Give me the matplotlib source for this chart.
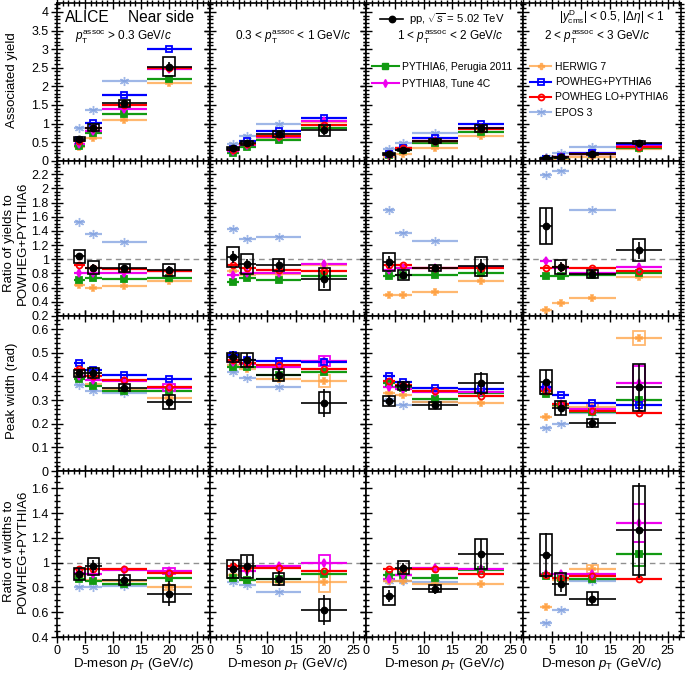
import numpy as np
import matplotlib
matplotlib.use('Agg')
import matplotlib.pyplot as plt
from matplotlib.patches import Rectangle
from matplotlib.lines import Line2D
from matplotlib.ticker import MultipleLocator, FuncFormatter

plt.rcParams['font.family'] = ['Liberation Sans', 'DejaVu Sans']
plt.rcParams['mathtext.fontset'] = 'custom'
plt.rcParams['mathtext.rm'] = 'Liberation Sans'
plt.rcParams['mathtext.it'] = 'Liberation Sans:italic'
plt.rcParams['mathtext.bf'] = 'Liberation Sans:bold'

# ---------------- data ----------------
PT_CENTERS = [4, 6.5, 12, 20]
PT_HALF = [1, 1.5, 4, 4]
ASSOC_LABELS = [r"$p_{\rm T}^{\rm assoc}$ > 0.3 GeV/$c$",
                r"0.3 < $p_{\rm T}^{\rm assoc}$ < 1 GeV/$c$",
                r"1 < $p_{\rm T}^{\rm assoc}$ < 2 GeV/$c$",
                r"2 < $p_{\rm T}^{\rm assoc}$ < 3 GeV/$c$"]

# Row 1: associated yield (per column = pT assoc range, per bin = D pT)
DATA_YIELD = [[0.58, 0.89, 1.54, 2.53], [0.33, 0.48, 0.71, 0.82],
              [0.18, 0.29, 0.53, 0.87], [0.065, 0.09, 0.17, 0.48]]
DATA_YIELD_STAT = [[0.03, 0.05, 0.07, 0.12], [0.03, 0.04, 0.06, 0.12],
                   [0.02, 0.03, 0.05, 0.08], [0.02, 0.02, 0.03, 0.04]]
DATA_YIELD_SYST = [[0.06, 0.09, 0.10, 0.25], [0.04, 0.05, 0.08, 0.15],
                   [0.02, 0.03, 0.05, 0.09], [0.02, 0.02, 0.03, 0.04]]
PW_YIELD = [[0.55, 1.02, 1.77, 2.99], [0.32, 0.52, 0.79, 1.14],
            [0.19, 0.35, 0.60, 0.98], [0.045, 0.10, 0.21, 0.44]]
PWLO_YIELD = [[0.52, 0.88, 1.51, 2.50], [0.29, 0.46, 0.67, 0.96],
              [0.17, 0.33, 0.53, 0.85], [0.04, 0.089, 0.187, 0.37]]
P8_YIELD = [[0.45, 0.81, 1.40, 2.47], [0.25, 0.42, 0.63, 1.07],
            [0.16, 0.31, 0.52, 0.87], [0.044, 0.088, 0.17, 0.39]]
P6_YIELD = [[0.40, 0.74, 1.26, 2.19], [0.22, 0.38, 0.56, 0.88],
            [0.15, 0.28, 0.47, 0.78], [0.034, 0.076, 0.168, 0.35]]
HW_YIELD = [[0.36, 0.60, 1.09, 2.10], [0.27, 0.41, 0.62, 1.05],
            [0.095, 0.17, 0.33, 0.67], [0.012, 0.038, 0.099, 0.32]]
EPOS_YIELD = [[0.88, 1.36, 2.14], [0.46, 0.66, 1.00],
              [0.32, 0.48, 0.75], [0.097, 0.22, 0.36]]

# Row 2: ratio of yields to POWHEG+PYTHIA6
DATA_RYIELD = [[1.04, 0.88, 0.88, 0.85], [1.03, 0.93, 0.92, 0.72],
               [0.96, 0.78, 0.88, 0.90], [1.47, 0.89, 0.79, 1.13]]
DATA_RYIELD_STAT = [[0.05, 0.05, 0.04, 0.06], [0.08, 0.07, 0.07, 0.12],
                    [0.08, 0.06, 0.06, 0.10], [0.25, 0.07, 0.06, 0.12]]
DATA_RYIELD_SYST = [[0.09, 0.09, 0.06, 0.09], [0.14, 0.14, 0.08, 0.15],
                    [0.13, 0.07, 0.04, 0.13], [0.26, 0.10, 0.06, 0.15]]
PWLO_RYIELD = [[0.92, 0.87, 0.86, 0.84], [0.92, 0.88, 0.85, 0.84],
               [0.92, 0.92, 0.88, 0.87], [0.88, 0.89, 0.87, 0.84]]
P8_RYIELD = [[0.80, 0.80, 0.80, 0.83], [0.78, 0.80, 0.80, 0.94],
             [0.85, 0.88, 0.87, 0.89], [0.98, 0.88, 0.80, 0.89]]
P6_RYIELD = [[0.71, 0.73, 0.72, 0.73], [0.68, 0.73, 0.71, 0.77],
             [0.77, 0.78, 0.78, 0.80], [0.76, 0.76, 0.78, 0.80]]
HW_RYIELD = [[0.64, 0.59, 0.62, 0.69], [0.83, 0.78, 0.79, 0.92],
             [0.50, 0.49, 0.54, 0.69], [0.28, 0.38, 0.46, 0.75]]
EPOS_RYIELD = [[1.53, 1.35, 1.24], [1.42, 1.28, 1.32],
               [1.69, 1.37, 1.26], [2.19, 2.24, 1.69]]

# Row 3: peak width (rad)
DATA_WIDTH = [[0.413, 0.415, 0.352, 0.292], [0.480, 0.469, 0.405, 0.288],
              [0.295, 0.359, 0.278, 0.370], [0.377, 0.267, 0.203, 0.353]]
DATA_WIDTH_STAT = [[0.02, 0.02, 0.015, 0.03], [0.025, 0.03, 0.025, 0.06],
                   [0.02, 0.02, 0.015, 0.05], [0.05, 0.03, 0.02, 0.10]]
DATA_WIDTH_SYST = [[0.015, 0.02, 0.015, 0.03], [0.02, 0.03, 0.025, 0.045],
                   [0.02, 0.015, 0.015, 0.04], [0.05, 0.03, 0.015, 0.10]]
PW_WIDTH = [[0.455, 0.425, 0.405, 0.389], [0.490, 0.470, 0.466, 0.459],
            [0.403, 0.375, 0.349, 0.345], [0.353, 0.320, 0.288, 0.278]]
PWLO_WIDTH = [[0.430, 0.400, 0.384, 0.356], [0.470, 0.458, 0.447, 0.430],
              [0.380, 0.365, 0.340, 0.318], [0.340, 0.285, 0.255, 0.243]]
P8_WIDTH = [[0.400, 0.385, 0.380, 0.352], [0.460, 0.452, 0.440, 0.465],
            [0.355, 0.345, 0.335, 0.335], [0.345, 0.283, 0.262, 0.370]]
P6_WIDTH = [[0.390, 0.360, 0.340, 0.340], [0.440, 0.438, 0.405, 0.420],
            [0.370, 0.352, 0.305, 0.330], [0.325, 0.280, 0.250, 0.300]]
HW_WIDTH = [[0.400, 0.367, 0.345, 0.310], [0.450, 0.430, 0.390, 0.380],
            [0.330, 0.320, 0.290, 0.288], [0.229, 0.275, 0.272, 0.561]]
EPOS_WIDTH = [[0.363, 0.339, 0.330], [0.420, 0.394, 0.356],
              [0.300, 0.281, 0.290], [0.182, 0.200, 0.245]]
P8_WIDTH_BOX = [[0, 0, 0, 0.015], [0, 0, 0, 0.022], [0, 0, 0, 0], [0, 0, 0, 0.075]]
HW_WIDTH_BOX = [[0, 0, 0, 0], [0, 0, 0, 0.025], [0, 0, 0, 0], [0, 0, 0.015, 0.03]]

# Row 4: ratio of widths to POWHEG+PYTHIA6
DATA_RWIDTH = [[0.91, 0.97, 0.86, 0.75], [0.95, 0.97, 0.87, 0.62],
               [0.73, 0.96, 0.79, 1.07], [1.06, 0.83, 0.71, 1.26]]
DATA_RWIDTH_STAT = [[0.05, 0.05, 0.04, 0.10], [0.07, 0.08, 0.06, 0.12],
                    [0.05, 0.04, 0.04, 0.12], [0.18, 0.07, 0.05, 0.38]]
DATA_RWIDTH_SYST = [[0.05, 0.07, 0.04, 0.07], [0.07, 0.09, 0.05, 0.09],
                    [0.07, 0.05, 0.03, 0.12], [0.17, 0.09, 0.05, 0.36]]
PWLO_RWIDTH = [[0.95, 0.95, 0.95, 0.92], [0.97, 0.96, 0.96, 0.93],
               [0.95, 0.95, 0.95, 0.91], [0.90, 0.88, 0.89, 0.87]]
P8_RWIDTH = [[0.92, 0.91, 0.94, 0.93], [0.95, 0.93, 0.97, 1.00],
             [0.87, 0.90, 0.96, 0.95], [0.91, 0.91, 0.91, 1.32]]
P6_RWIDTH = [[0.87, 0.85, 0.83, 0.88], [0.88, 0.86, 0.87, 0.91],
             [0.90, 0.90, 0.88, 0.94], [0.89, 0.88, 0.87, 1.07]]
HW_RWIDTH = [[0.89, 0.86, 0.85, 0.80], [0.90, 0.86, 0.84, 0.84],
             [0.85, 0.85, 0.83, 0.83], [0.64, 0.86, 0.95, 2.02]]
EPOS_RWIDTH = [[0.80, 0.80, 0.81], [0.84, 0.82, 0.76],
               [0.85, 0.85, 0.84], [0.51, 0.62, 0.85]]
P8_RWIDTH_BOX = [[0, 0, 0, 0.025], [0, 0, 0, 0.065], [0, 0, 0, 0], [0, 0, 0, 0.15]]
P6_RWIDTH_BOX = [[0, 0, 0, 0], [0, 0, 0, 0], [0, 0, 0, 0], [0, 0, 0, 0.10]]
HW_RWIDTH_BOX = [[0, 0, 0, 0.02], [0, 0, 0, 0.08], [0, 0, 0, 0], [0, 0, 0.035, 0]]

# ---------------- styles ----------------
C_DATA = 'black'
C_P6 = '#129a12'
C_P8 = '#ee00ee'
C_HW = '#ffa040'
C_PW = '#0000ff'
C_PWLO = '#ff0000'
C_EPOS = '#7f9fe0'
ASTER = (6, 2, 0)
MS = {'s': 4.0, 'o': 4.3, 'd': 4.2, 'P': 4.0, ASTER: 6.5}

W, H = 685, 674
fig = plt.figure(figsize=(W / 100, H / 100), dpi=100)
COL_EDGES = [57, 210, 366, 523, 681]
ROW_EDGES = [3, 160.7, 316, 471, 637]

ROWS = [
    dict(ylim=(0, 4.24), major=0.5, minor=0.1,
         data=(DATA_YIELD, DATA_YIELD_STAT, DATA_YIELD_SYST),
         models=[(EPOS_YIELD, C_EPOS, ASTER, 'full', None), (HW_YIELD, C_HW, 'P', 'full', None),
                 (P6_YIELD, C_P6, 's', 'full', None), (P8_YIELD, C_P8, 'd', 'full', None),
                 (PW_YIELD, C_PW, 's', 'none', None), (PWLO_YIELD, C_PWLO, 'o', 'none', None)],
         ratio=False),
    dict(ylim=(0.2, 2.39), major=0.2, minor=0.05,
         data=(DATA_RYIELD, DATA_RYIELD_STAT, DATA_RYIELD_SYST),
         models=[(EPOS_RYIELD, C_EPOS, ASTER, 'full', None), (HW_RYIELD, C_HW, 'P', 'full', None),
                 (P6_RYIELD, C_P6, 's', 'full', None), (P8_RYIELD, C_P8, 'd', 'full', None),
                 (PWLO_RYIELD, C_PWLO, 'o', 'none', None)],
         ratio=True),
    dict(ylim=(0, 0.655), major=0.1, minor=0.02,
         data=(DATA_WIDTH, DATA_WIDTH_STAT, DATA_WIDTH_SYST),
         models=[(EPOS_WIDTH, C_EPOS, ASTER, 'full', None), (HW_WIDTH, C_HW, 'P', 'full', HW_WIDTH_BOX),
                 (P6_WIDTH, C_P6, 's', 'full', None), (P8_WIDTH, C_P8, 'd', 'full', P8_WIDTH_BOX),
                 (PW_WIDTH, C_PW, 's', 'none', None), (PWLO_WIDTH, C_PWLO, 'o', 'none', None)],
         ratio=False),
    dict(ylim=(0.4, 1.74), major=0.2, minor=0.05,
         data=(DATA_RWIDTH, DATA_RWIDTH_STAT, DATA_RWIDTH_SYST),
         models=[(EPOS_RWIDTH, C_EPOS, ASTER, 'full', None), (HW_RWIDTH, C_HW, 'P', 'full', HW_RWIDTH_BOX),
                 (P6_RWIDTH, C_P6, 's', 'full', P6_RWIDTH_BOX), (P8_RWIDTH, C_P8, 'd', 'full', P8_RWIDTH_BOX),
                 (PWLO_RWIDTH, C_PWLO, 'o', 'none', None)],
         ratio=True),
]

fmt = FuncFormatter(lambda v, p: f"{v:g}" if abs(v) > 1e-9 else "0")
axes = [[None] * 4 for _ in range(4)]

for r, row in enumerate(ROWS):
    for c in range(4):
        x0, x1 = COL_EDGES[c], COL_EDGES[c + 1]
        y0, y1 = ROW_EDGES[r], ROW_EDGES[r + 1]
        ax = fig.add_axes([x0 / W, 1 - y1 / H, (x1 - x0) / W, (y1 - y0) / H])
        axes[r][c] = ax
        ax.set_xlim(0, 27.3)
        ax.set_ylim(*row['ylim'])
        ax.xaxis.set_major_locator(MultipleLocator(5))
        ax.xaxis.set_minor_locator(MultipleLocator(1))
        ax.yaxis.set_major_locator(MultipleLocator(row['major']))
        ax.yaxis.set_minor_locator(MultipleLocator(row['minor']))
        ax.yaxis.set_major_formatter(fmt)
        ax.xaxis.set_major_formatter(fmt)
        ax.tick_params(which='both', direction='inout', top=True, right=True,
                       labelsize=9, width=1.0, pad=2)
        ax.tick_params(which='major', length=8)
        ax.tick_params(which='minor', length=4)
        ax.tick_params(labelleft=(c == 0), labelbottom=(r == 3))
        for sp in ax.spines.values():
            sp.set_linewidth(1.2)
        if row['ratio']:
            ax.axhline(1.0, color='#909090', ls=(0, (4, 3)), lw=1.0, zorder=1)

        # models
        for vals_all, color, marker, fill, boxes in row['models']:
            vals = vals_all[c]
            n = len(vals)
            alpha = 0.75 if color in (C_HW, C_EPOS) else 1.0
            ax.errorbar(PT_CENTERS[:n], vals, xerr=PT_HALF[:n], fmt='', marker=marker,
                        linestyle='none', color=color,
                        mfc=(color if fill == 'full' else 'none'), mec=color, ms=MS[marker],
                        mew=(1.0 if marker == ASTER else 1.3), elinewidth=1.6, capsize=0,
                        alpha=alpha, zorder=3)
            if boxes is not None:
                for xc, v, b in zip(PT_CENTERS, vals, boxes[c]):
                    if b > 0:
                        ax.add_patch(Rectangle((xc - 1, v - b), 2, 2 * b, fill=False,
                                               ec=color, lw=1.3, alpha=alpha, zorder=3))

        # data
        dv, ds, dsys = row['data']
        ax.errorbar(PT_CENTERS, dv[c], xerr=PT_HALF, yerr=ds[c], fmt='o', color=C_DATA,
                    ms=4.6, elinewidth=1.2, capsize=0, zorder=5)
        for xc, v, b in zip(PT_CENTERS, dv[c], dsys[c]):
            ax.add_patch(Rectangle((xc - 1, v - b), 2, 2 * b, fill=False, ec='black',
                                   lw=1.2, zorder=5))

        if r == 3:
            ax.set_xlabel(r"D-meson $p_{\rm T}$ (GeV/$c$)", fontsize=9.5, labelpad=-1)


def fx(px):
    return px / W


def fy(py):
    return 1 - py / H


# y-axis titles
fig.text(fx(12), fy(80), "Associated yield", rotation=90, ha='center', va='center', fontsize=9.5)
fig.text(fx(16), fy(243), "Ratio of yields to\nPOWHEG+PYTHIA6", rotation=90, ha='center',
         va='center', fontsize=9.5, linespacing=1.15)
fig.text(fx(12), fy(391), "Peak width (rad)", rotation=90, ha='center', va='center', fontsize=9.5)
fig.text(fx(16), fy(551), "Ratio of widths to\nPOWHEG+PYTHIA6", rotation=90, ha='center',
         va='center', fontsize=9.5, linespacing=1.15)

# annotations in top row
a0, a1, a2, a3 = axes[0]
fig.text(fx(65), fy(17), "ALICE", ha='left', va='center', fontsize=11.2)
fig.text(fx(128), fy(17), "Near side", ha='left', va='center', fontsize=11.2)
fig.text(fx(75), fy(37), ASSOC_LABELS[0], ha='left', va='center', fontsize=8.5)
fig.text(fx(293), fy(37), ASSOC_LABELS[1], ha='center', va='center', fontsize=8.5)
fig.text(fx(450), fy(37), ASSOC_LABELS[2], ha='center', va='center', fontsize=8.5)
fig.text(fx(597), fy(37), ASSOC_LABELS[3], ha='center', va='center', fontsize=8.5)
fig.text(fx(612), fy(17), r"$|y^{\rm D}_{\rm cms}|$ < 0.5, $|\Delta\eta|$ < 1",
         ha='center', va='center', fontsize=8.5)

# legends
h_data = Line2D([], [], color='black', marker='o', ms=4.6, lw=1.2)
leg1 = a2.legend([h_data], [r"pp, $\sqrt{s}$ = 5.02 TeV"], loc='upper left',
                 bbox_to_anchor=(0.04, 1.0), frameon=False, fontsize=8.2,
                 handlelength=2.0, handletextpad=0.5, borderaxespad=0.3)
a2.add_artist(leg1)
h_p6 = Line2D([], [], color=C_P6, marker='s', ms=MS['s'], lw=1.5)
h_p8 = Line2D([], [], color=C_P8, marker='d', ms=MS['d'], lw=1.5)
a2.legend([h_p6, h_p8], ["PYTHIA6, Perugia 2011", "PYTHIA8, Tune 4C"], loc='upper left',
          bbox_to_anchor=(-0.01, 0.672), frameon=False, fontsize=7.5, handlelength=2.6,
          handletextpad=0.35, labelspacing=0.65, borderaxespad=0.3)
h_hw = Line2D([], [], color=C_HW, marker='P', ms=MS['P'], lw=1.5, alpha=0.75)
h_pw = Line2D([], [], color=C_PW, marker='s', ms=MS['s'], mfc='none', mew=1.3, lw=1.5)
h_pwlo = Line2D([], [], color=C_PWLO, marker='o', ms=MS['o'], mfc='none', mew=1.3, lw=1.5)
h_epos = Line2D([], [], color=C_EPOS, marker=ASTER, ms=MS[ASTER], mew=1.0, lw=1.5, alpha=0.75)
a3.legend([h_hw, h_pw, h_pwlo, h_epos],
          ["HERWIG 7", "POWHEG+PYTHIA6", "POWHEG LO+PYTHIA6", "EPOS 3"],
          loc='upper left', bbox_to_anchor=(0.0, 0.672), frameon=False, fontsize=7.5,
          handlelength=2.0, handletextpad=0.4, labelspacing=0.5, borderaxespad=0.3)

fig.savefig('out.png', dpi=100)
